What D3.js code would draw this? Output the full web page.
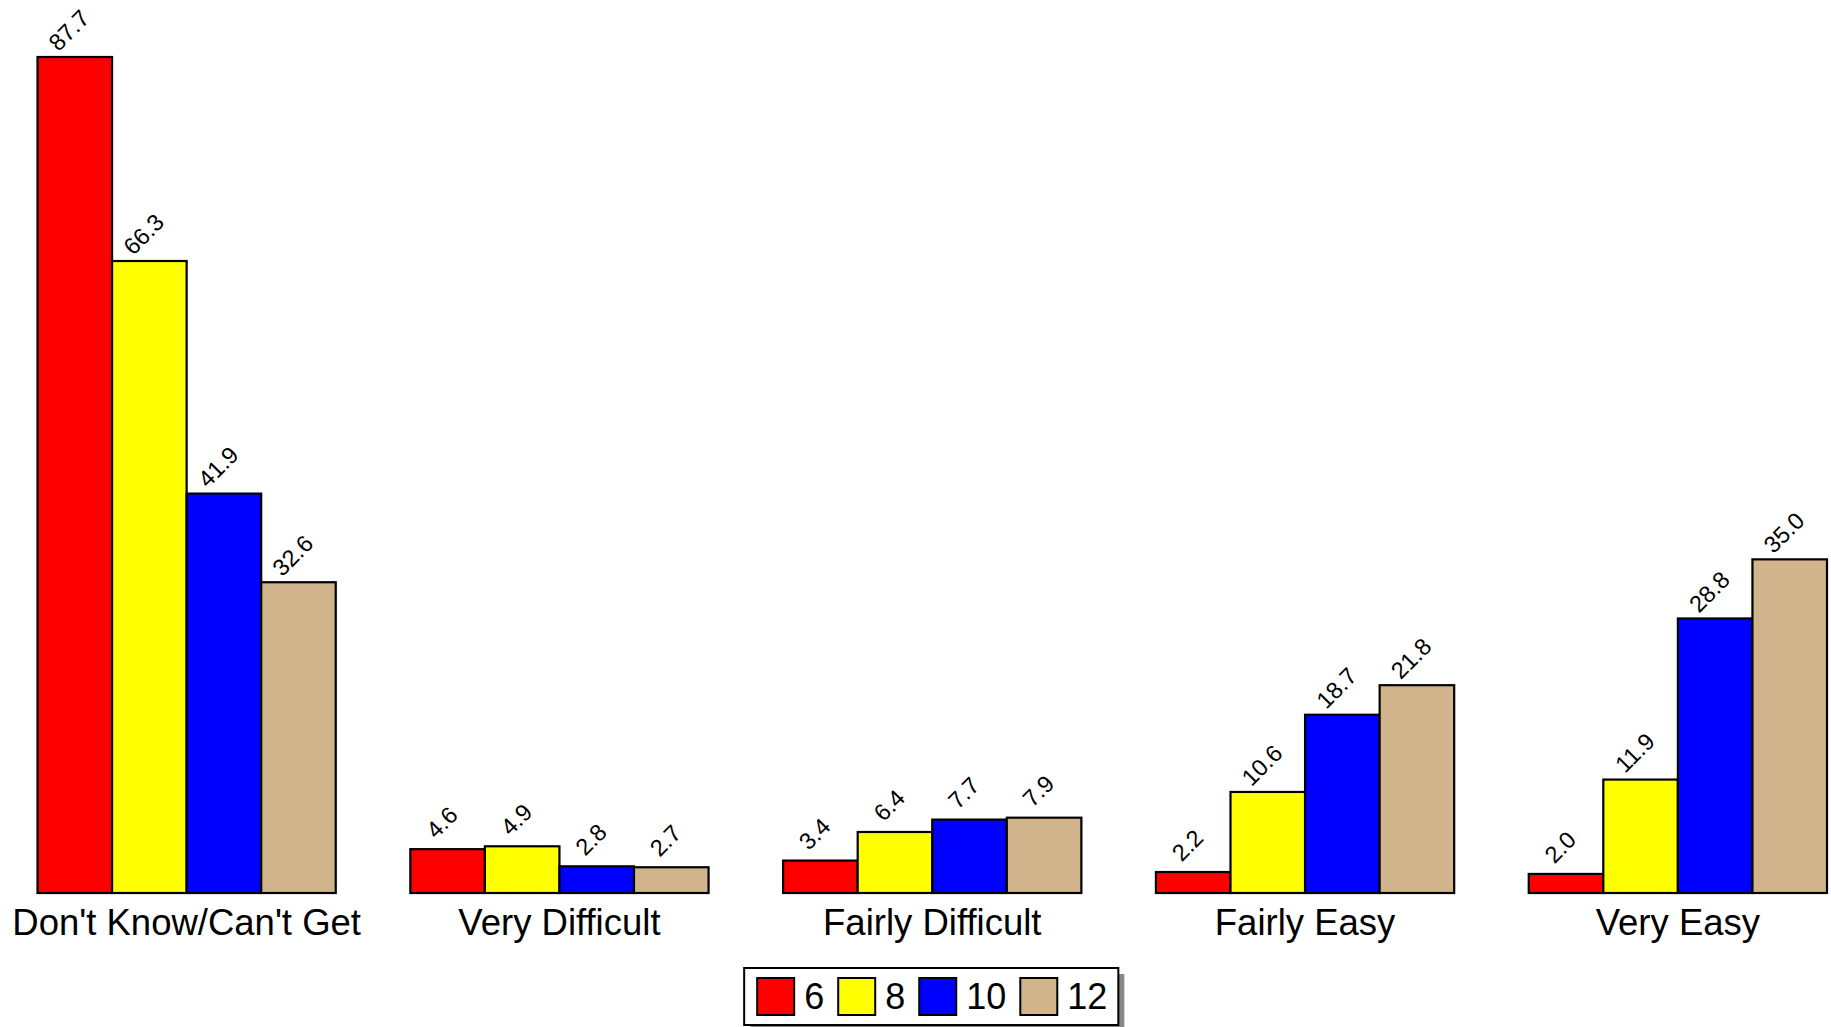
<!DOCTYPE html>
<html lang="en">
  <head>
    <meta charset="utf-8">
    <title>Grouped Bar Chart</title>
    <script src="https://d3js.org/d3.v7.js"></script>
    <style>
      body { margin: 0; background: #fff; }
      text { font-family: "Liberation Sans", Arial, sans-serif; fill: #000; }
    </style>
  </head>
  <body>
    <script>

  // chart size
  var w = 1831;
  var h = 1027;

  // data
  var categories = ["Don't Know/Can't Get", "Very Difficult", "Fairly Difficult", "Fairly Easy", "Very Easy"];
  var grades = ["6", "8", "10", "12"];
  var grade6 = [87.7, 4.6, 3.4, 2.2, 2.0];
  var grade8 = [66.3, 4.9, 6.4, 10.6, 11.9];
  var grade10 = [41.9, 2.8, 7.7, 18.7, 28.8];
  var grade12 = [32.6, 2.7, 7.9, 21.8, 35.0];
  var barColors = ["#ff0000", "#ffff00", "#0000ff", "#d2b48c"];

  var seriesValues = [grade6, grade8, grade10, grade12];

  // build rows for drawing
  var rows = [];
  categories.forEach(function (c, i) {
    grades.forEach(function (g, j) {
      rows.push({ category: c, grade: g, value: seriesValues[j][i] });
    });
  });

  // scales
  var xScale = d3.scaleBand()
    .domain(categories)
    .range([37.5, 1827])
    .paddingInner(0.2)
    .paddingOuter(0);

  var xInner = d3.scaleBand()
    .domain(grades)
    .range([0, xScale.bandwidth()]);

  var yScale = d3.scaleLinear()
    .domain([0, 87.7])
    .range([893, 57]);

  var colors = d3.scaleOrdinal()
    .domain(grades)
    .range(barColors);

  var fmt = d3.format(".1f");

  var svg = d3.select("body")
    .append("svg")
    .attr("width", w)
    .attr("height", h);

  // bars
  svg.append("g")
    .selectAll("rect")
    .data(rows)
    .enter()
    .append("rect")
    .attr("x", d => xScale(d.category) + xInner(d.grade))
    .attr("y", d => yScale(d.value))
    .attr("width", xInner.bandwidth())
    .attr("height", d => yScale(0) - yScale(d.value))
    .attr("fill", d => colors(d.grade))
    .attr("stroke", "#000")
    .attr("stroke-width", 2.2);

  // value labels, rotated
  svg.append("g")
    .selectAll("text")
    .data(rows)
    .enter()
    .append("text")
    .attr("text-anchor", "middle")
    .attr("font-size", 23.5)
    .attr("transform", function (d) {
      var cx = xScale(d.category) + xInner(d.grade) + xInner.bandwidth() / 2;
      var cy = yScale(d.value) - 21;
      return `translate(${cx}, ${cy}) rotate(-45)`;
    })
    .text(d => fmt(d.value));

  // category axis labels
  var xAxis = d3.axisBottom(xScale).tickSize(0).tickPadding(0);
  var axisG = svg.append("g")
    .attr("transform", `translate(0, ${yScale(0)})`)
    .call(xAxis);
  axisG.select(".domain").remove();
  axisG.selectAll("text")
    .attr("font-size", 36.5)
    .attr("dy", null)
    .attr("y", 42)
    .style("font-family", "\"Liberation Sans\", Arial, sans-serif");

  // legend
  var legend = svg.append("g");
  var sw = 37, gapText = 10, gapItem = 14, pad = 12;
  var items = legend.selectAll("g")
    .data(grades)
    .enter()
    .append("g");

  items.append("rect")
    .attr("width", sw)
    .attr("height", sw)
    .attr("fill", d => colors(d))
    .attr("stroke", "#000")
    .attr("stroke-width", 2);

  items.append("text")
    .attr("x", sw + gapText)
    .attr("y", sw / 2)
    .attr("dy", "0.36em")
    .attr("font-size", 36)
    .text(d => d);

  var xpos = pad;
  items.each(function () {
    var tw = d3.select(this).select("text").node().getComputedTextLength();
    d3.select(this).attr("transform", `translate(${xpos}, 0)`);
    xpos += sw + gapText + tw + gapItem;
  });
  var legendW = xpos - gapItem + pad;
  var legendH = 57;
  var lx = (xScale.range()[0] + xScale.range()[1]) / 2 - legendW / 2;
  var ly = 968;

  legend.insert("rect", ":first-child")
    .attr("x", -1)
    .attr("y", 0)
    .attr("width", legendW)
    .attr("height", legendH)
    .attr("fill", "#fff")
    .attr("stroke", "#000")
    .attr("stroke-width", 2);
  legend.insert("rect", ":first-child")
    .attr("x", 5)
    .attr("y", 6)
    .attr("width", legendW)
    .attr("height", legendH)
    .attr("fill", "#888");
  items.attr("transform", function () { return d3.select(this).attr("transform") + " translate(0, 10)"; });
  legend.attr("transform", `translate(${lx}, ${ly})`);

    </script>
  </body>
</html>
